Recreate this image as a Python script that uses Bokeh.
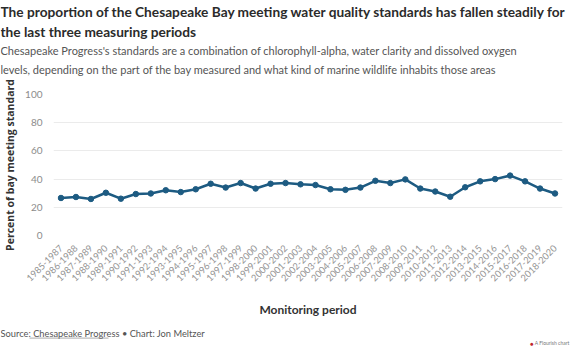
import math
from bokeh.plotting import figure
from bokeh.layouts import column
from bokeh.models import Range1d, FactorRange, ColumnDataSource
from bokeh.core.properties import value
from bokeh.embed import file_html
from bokeh.resources import INLINE

periods = [
    "1985-1987", "1986-1988", "1987-1989", "1988-1990", "1989-1991", "1990-1992",
    "1991-1993", "1992-1994", "1993-1995", "1994-1996", "1995-1997", "1996-1998",
    "1997-1999", "1998-2000", "1999-2001", "2000-2002", "2001-2003", "2002-2004",
    "2003-2005", "2004-2006", "2005-2007", "2006-2008", "2007-2009", "2008-2010",
    "2009-2011", "2010-2012", "2011-2013", "2012-2014", "2013-2015", "2014-2016",
    "2015-2017", "2016-2018", "2017-2019", "2018-2020",
]
percent_meeting = [
    26.6, 27.3, 25.9, 30.3, 26.1, 29.4, 29.8, 32.1, 30.8, 32.8, 36.7, 34.0,
    37.2, 33.3, 36.7, 37.2, 36.3, 35.8, 32.8, 32.4, 34.0, 38.8, 37.2, 39.8,
    33.3, 31.2, 27.5, 34.2, 38.4, 40.0, 42.5, 38.4, 33.3, 29.8,
]
y_ticks = [0, 20, 40, 60, 80, 100]

title_lines = [
    "The proportion of the Chesapeake Bay meeting water quality standards has fallen steadily for",
    "the last three measuring periods",
]
subtitle_lines = [
    "Chesapeake Progress's standards are a combination of chlorophyll-alpha, water clarity and dissolved oxygen",
    "levels, depending on the part of the bay measured and what kind of marine wildlife inhabits those areas",
]
source_text = "Source: Chesapeake Progress \u2022 Chart: Jon Meltzer"
watermark = "A Flourish chart"

FONT = "Lato"
LINE_COLOR = "#1d5b82"
W = 570
HEAD_H, MAIN_H, FOOT_H = 78, 242, 27


def blank_fig(h):
    f = figure(width=W, height=h, x_range=Range1d(0, W), y_range=Range1d(h, 0),
               output_backend="svg", toolbar_location=None,
               x_axis_location=None, y_axis_location=None,
               min_border=0, min_border_left=0, min_border_right=0,
               min_border_top=0, min_border_bottom=0, frame_align=False)
    f.outline_line_color = None
    f.xgrid.visible = False
    f.ygrid.visible = False
    return f


def add_lines(f, lines, ys, size, style, color, x=0, align="left"):
    f.text(x=[x] * len(lines), y=ys, text=lines,
           text_font=value(FONT), text_font_size=size, text_font_style=style,
           text_color=color, text_align=align, text_baseline="middle")


# ---- header ----
head = blank_fig(HEAD_H)
add_lines(head, title_lines, [10.5, 30.5], "13.7px", "bold", "#2b2b2b")
add_lines(head, subtitle_lines, [50.0, 68.5], "11px", "normal", "#555555")

# ---- main chart ----
src = ColumnDataSource(dict(period=periods, value=percent_meeting))
p = figure(
    width=W, height=MAIN_H,
    x_range=FactorRange(factors=periods, range_padding=0),
    y_range=Range1d(0, 100),
    output_backend="svg", toolbar_location=None, frame_align=False,
    min_border_left=39, min_border_right=8, min_border_top=16, min_border_bottom=81,
)
p.line(x="period", y="value", source=src, line_color=LINE_COLOR, line_width=2.5)
p.scatter(x="period", y="value", source=src, size=5.5, color=LINE_COLOR)

p.outline_line_color = None
p.xgrid.grid_line_color = None
p.ygrid.grid_line_color = "#ebebeb"
p.ygrid.grid_line_width = 1

p.yaxis.ticker = y_ticks
p.yaxis.axis_line_color = None
p.yaxis.major_tick_line_color = None
p.yaxis.minor_tick_line_color = None
p.yaxis.major_label_text_font = FONT
p.yaxis.major_label_text_font_size = "10px"
p.yaxis.major_label_text_color = "#8c8c8c"
p.yaxis.major_label_standoff = 5
p.yaxis.axis_label = "Percent of bay meeting standard"
p.yaxis.axis_label_text_font = "Open Sans"
p.yaxis.axis_label_text_font_style = "bold"
p.yaxis.axis_label_text_font_size = "10.5px"
p.yaxis.axis_label_text_color = "#333333"
p.yaxis.axis_label_standoff = 5

p.xaxis.axis_line_color = None
p.xaxis.major_tick_line_color = None
p.xaxis.major_label_orientation = math.pi / 4
p.xaxis.major_label_text_font = FONT
p.xaxis.major_label_text_font_size = "9.3px"
p.xaxis.major_label_text_color = "#939393"
p.xaxis.major_label_standoff = 5
p.xaxis.axis_label = "Monitoring period"
p.xaxis.axis_label_text_font = FONT
p.xaxis.axis_label_text_font_style = "bold"
p.xaxis.axis_label_text_font_size = "12px"
p.xaxis.axis_label_text_color = "#333333"
p.xaxis.axis_label_standoff = 15

# ---- footer ----
foot = blank_fig(FOOT_H)
add_lines(foot, [source_text], [12.8], "9.3px", "normal", "#555555")
foot.segment(x0=[29], y0=[17.6], x1=[108], y1=[17.6], line_color="#888888", line_width=0.7)
add_lines(foot, [watermark], [22.5], "5px", "normal", "#777777", x=569, align="right")
add_lines(foot, ["\u25cf"], [22.5], "6px", "normal", "#c0272d", x=533, align="right")

layout = column(head, p, foot, spacing=0)
open("out.html", "w").write(file_html(layout, INLINE))
